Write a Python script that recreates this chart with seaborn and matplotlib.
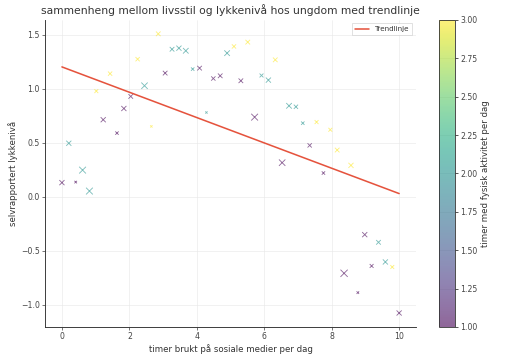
import numpy as np
import pandas as pd
import matplotlib
matplotlib.use("Agg")
import matplotlib.pyplot as plt
from matplotlib.colors import ListedColormap
import seaborn as sns

# ---- data ----
social_media_hours = np.linspace(0, 10, 50)
happiness = [0.13, 0.495, 0.135, 0.246, 0.052, 0.978, 0.713, 1.14, 0.589, 0.817,
             0.929, 1.274, 1.028, 0.651, 1.509, 1.145, 1.366, 1.376, 1.352, 1.182,
             1.191, 0.78, 1.095, 1.12, 1.33, 1.392, 1.074, 1.432, 0.737, 1.123,
             1.08, 1.268, 0.315, 0.842, 0.833, 0.681, 0.475, 0.691, 0.219, 0.62,
             0.432, -0.71, 0.29, -0.889, -0.352, -0.642, -0.423, -0.605, -0.652, -1.078]
activity_hours = [1, 2, 1, 2, 2, 3, 1, 3, 1, 1,
                  1, 3, 2, 3, 3, 1, 2, 2, 2, 2,
                  1, 2, 1, 1, 2, 3, 1, 3, 1, 2,
                  2, 3, 1, 2, 2, 2, 1, 3, 1, 3,
                  3, 1, 3, 1, 1, 1, 2, 2, 3, 1]
point_size = [16, 16, 4, 28, 28, 9, 16, 11, 7, 16,
              13, 11, 25, 3, 13, 13, 13, 16, 19, 7,
              13, 3, 11, 13, 19, 11, 13, 13, 28, 9,
              16, 13, 25, 19, 11, 7, 11, 9, 7, 9,
              13, 32, 16, 4, 16, 9, 13, 16, 9, 16]
cbar_ticks = [1.00, 1.25, 1.50, 1.75, 2.00, 2.25, 2.50, 2.75, 3.00]

df = pd.DataFrame({"x": social_media_hours, "y": happiness,
                   "act": activity_hours, "s": point_size})

sns.set_theme(style="whitegrid")
plt.rcParams.update({
    "font.family": ["DejaVu Sans"],
    "text.color": "#333333",
    "axes.labelcolor": "#333333",
    "xtick.color": "#444444",
    "ytick.color": "#444444",
    "grid.color": "#e8e8e8",
    "grid.linewidth": 0.8,
})

fig = plt.figure(figsize=(10, 6.934), dpi=51.2)
ax = fig.add_axes([0.088, 0.079, 0.7245, 0.865])
cax = fig.add_axes([0.857, 0.079, 0.032, 0.865])

norm = plt.Normalize(1, 3)
sns.scatterplot(data=df, x="x", y="y", hue="act", hue_norm=norm, palette="viridis",
                size="s", sizes=(min(point_size) * 3.2, max(point_size) * 3.2),
                size_norm=(min(point_size), max(point_size)),
                marker="x", alpha=0.6, linewidth=1.2, legend=False, ax=ax)

coef = np.polyfit(df["x"], df["y"], 1)
xs = np.array([df["x"].min(), df["x"].max()])
ax.plot(xs, np.polyval(coef, xs), color="#e5533d", linewidth=2.2, label="Trendlinje")

ax.set_title("sammenheng mellom livsstil og lykkenivå hos ungdom med trendlinje",
             fontsize=15.2, pad=8)
ax.set_xlabel("timer brukt på sosiale medier per dag", fontsize=12.2)
ax.set_ylabel("selvrapportert lykkenivå", fontsize=12.2)
ax.tick_params(labelsize=11, length=4, width=1, direction="out", left=True, bottom=True,
               color="#444444")
ax.set_xticks([0, 2, 4, 6, 8, 10])
ax.set_yticks([-1.0, -0.5, 0.0, 0.5, 1.0, 1.5])
for side in ("top", "right"):
    ax.spines[side].set_visible(False)
for side in ("left", "bottom"):
    ax.spines[side].set_color("#333333")
    ax.spines[side].set_linewidth(1.3)
ax.grid(True)
leg = ax.legend(loc="upper right", fontsize=10, frameon=True, fancybox=False)
leg.get_frame().set_edgecolor("#cccccc")

vir = plt.get_cmap("viridis")(np.linspace(0, 1, 256))
vir[:, 3] = 0.6
alpha_cmap = ListedColormap(vir)
sm = plt.cm.ScalarMappable(norm=norm, cmap=alpha_cmap)
cb = fig.colorbar(sm, cax=cax, ticks=cbar_ticks)
cb.set_label("timer med fysisk aktivitet per dag", fontsize=12.2)
cb.ax.tick_params(labelsize=11, length=4, color="#444444")
cb.outline.set_edgecolor("#333333")
cb.outline.set_linewidth(1.2)
cb.ax.yaxis.set_major_formatter(matplotlib.ticker.FormatStrFormatter("%.2f"))

fig.savefig("out.png", dpi=51.2)
